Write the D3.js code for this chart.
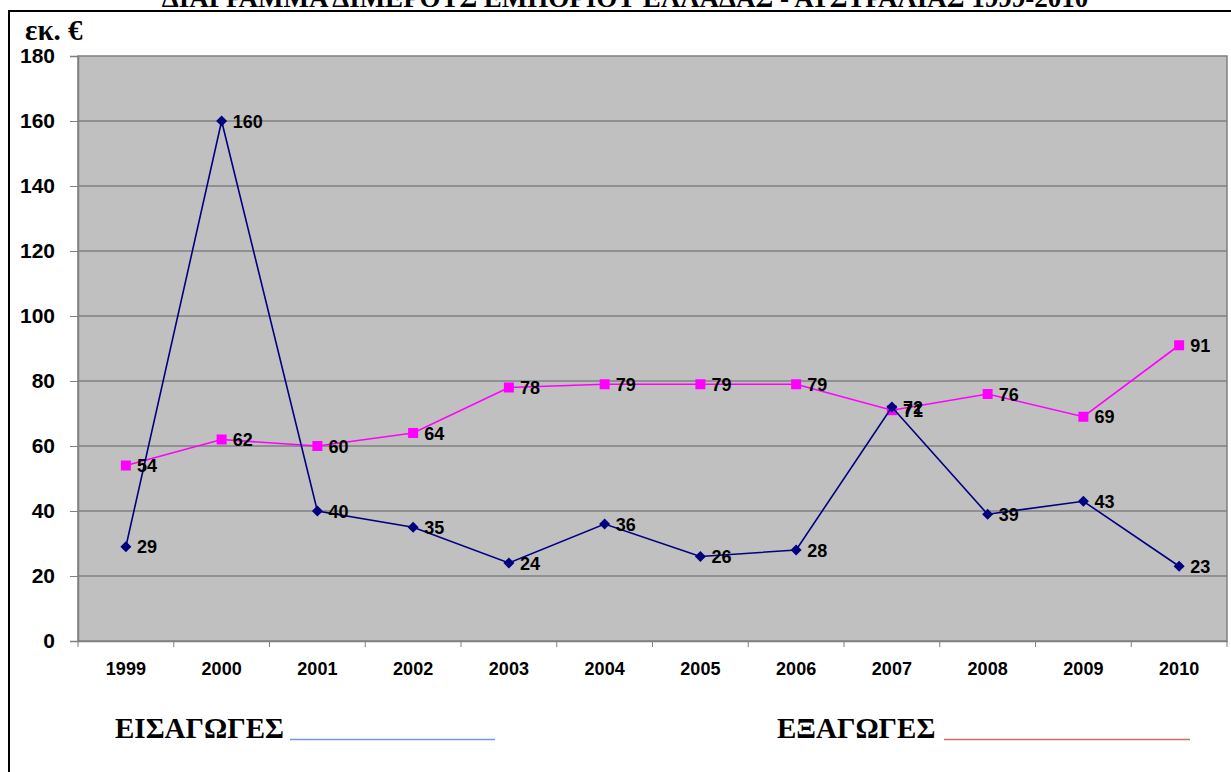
<!DOCTYPE html>
<html>
<head>
<meta charset="utf-8">
<script src="https://cdn.jsdelivr.net/npm/d3@7"></script>
<style>
  body { margin: 0; background: #fff; }
  svg { display: block; }
</style>
</head>
<body>
<svg id="chart" width="1231" height="772"></svg>
<script>
const years = ["1999", "2000", "2001", "2002", "2003", "2004", "2005", "2006", "2007", "2008", "2009", "2010"];
const imports = [29, 160, 40, 35, 24, 36, 26, 28, 72, 39, 43, 23];
const exports_ = [54, 62, 60, 64, 78, 79, 79, 79, 71, 76, 69, 91];
const yTicks = [0, 20, 40, 60, 80, 100, 120, 140, 160, 180];
const titleText = "ΔΙΑΓΡΑΜΜΑ ΔΙΜΕΡΟΥΣ ΕΜΠΟΡΙΟΥ ΕΛΛΑΔΑΣ - ΑΥΣΤΡΑΛΙΑΣ 1999-2010";

const svg = d3.select("#chart");
const plot = { left: 78, top: 56, right: 1227, bottom: 641 };
const sansBold = "Arial, 'Liberation Sans', sans-serif";
const serif = "'Times New Roman', 'Liberation Serif', serif";

// title, cut off at top of the page
svg.append("text")
  .attr("x", 625).attr("y", 7)
  .attr("text-anchor", "middle")
  .attr("font-family", serif).attr("font-weight", "bold")
  .attr("font-size", 27)
  .text(titleText);

// frame
svg.append("rect")
  .attr("x", 9).attr("y", 11).attr("width", 1240).attr("height", 800)
  .attr("fill", "none").attr("stroke", "#000").attr("stroke-width", 2);

const x = d3.scaleBand().domain(years).range([plot.left, plot.right]);
const y = d3.scaleLinear().domain([0, 180]).range([plot.bottom, plot.top]);

svg.append("rect")
  .attr("x", plot.left).attr("y", plot.top)
  .attr("width", plot.right - plot.left).attr("height", plot.bottom - plot.top)
  .attr("fill", "#c0c0c0").attr("stroke", "#808080").attr("stroke-width", 1.5);

// gridlines
svg.append("g").selectAll("line").data(yTicks.filter(d => d > 0 && d < 180)).join("line")
  .attr("x1", plot.left).attr("x2", plot.right)
  .attr("y1", d => y(d)).attr("y2", d => y(d))
  .attr("stroke", "#808080").attr("stroke-width", 1.5);

// y axis
const yAxis = svg.append("g")
  .attr("transform", `translate(${plot.left},0)`)
  .call(d3.axisLeft(y).tickValues(yTicks).tickSize(8).tickPadding(15));
yAxis.select(".domain").attr("stroke", "#808080").attr("stroke-width", 1.5);
yAxis.selectAll(".tick line").attr("stroke", "#808080");
yAxis.selectAll("text")
  .attr("font-family", sansBold).attr("font-weight", "bold")
  .attr("font-size", 21).attr("fill", "#000");

// x axis
const xAxis = svg.append("g")
  .attr("transform", `translate(0,${plot.bottom})`)
  .call(d3.axisBottom(x).tickSize(0).tickPadding(21));
xAxis.select(".domain").attr("stroke", "#808080").attr("stroke-width", 1.5);
xAxis.selectAll("text")
  .attr("font-family", sansBold).attr("font-weight", "bold")
  .attr("font-size", 18).attr("fill", "#000");
// category separators below axis
svg.append("g").selectAll("line").data(years.concat(["end"])).join("line")
  .attr("x1", (d, i) => plot.left + i * x.bandwidth())
  .attr("x2", (d, i) => plot.left + i * x.bandwidth())
  .attr("y1", plot.bottom).attr("y2", plot.bottom + 6)
  .attr("stroke", "#808080");

const cx = d => x(d) + x.bandwidth() / 2;
const line = d3.line().x((d, i) => cx(years[i])).y(d => y(d));

// exports (magenta squares)
svg.append("path").datum(exports_)
  .attr("d", line).attr("fill", "none")
  .attr("stroke", "#ff00ff").attr("stroke-width", 1.6);
svg.append("g").selectAll("rect").data(exports_).join("rect")
  .attr("x", (d, i) => cx(years[i]) - 5).attr("y", d => y(d) - 5)
  .attr("width", 10).attr("height", 10).attr("fill", "#ff00ff");

// imports (navy diamonds)
svg.append("path").datum(imports)
  .attr("d", line).attr("fill", "none")
  .attr("stroke", "#000080").attr("stroke-width", 1.6);
svg.append("g").selectAll("path").data(imports).join("path")
  .attr("d", "M0,-5.5L5.5,0L0,5.5L-5.5,0Z")
  .attr("transform", (d, i) => `translate(${cx(years[i])},${y(d)})`)
  .attr("fill", "#000080");

// value labels
const labelGroup = svg.append("g")
  .attr("font-family", sansBold).attr("font-weight", "bold")
  .attr("font-size", 18).attr("fill", "#000");
[imports, exports_].forEach(series => {
  labelGroup.append("g").selectAll("text").data(series).join("text")
    .attr("x", (d, i) => cx(years[i]) + 11)
    .attr("y", d => y(d) + 6.5)
    .text(d => d);
});

// unit label
svg.append("text")
  .attr("x", 25).attr("y", 40)
  .attr("font-family", serif).attr("font-weight", "bold").attr("font-size", 29)
  .text("εκ. €");

// legend
const legend = [
  { label: "ΕΙΣΑΓΩΓΕΣ", x: 115, x1: 290, x2: 495, color: "#6f9bd8" },
  { label: "ΕΞΑΓΩΓΕΣ", x: 777, x1: 944, x2: 1190, color: "#cd6b6b" }
];
legend.forEach(l => {
  svg.append("text")
    .attr("x", l.x).attr("y", 738)
    .attr("font-family", serif).attr("font-weight", "bold").attr("font-size", 29)
    .text(l.label);
  svg.append("line")
    .attr("x1", l.x1).attr("x2", l.x2).attr("y1", 739.5).attr("y2", 739.5)
    .attr("stroke", l.color).attr("stroke-width", 1.5);
});
</script>
</body>
</html>
